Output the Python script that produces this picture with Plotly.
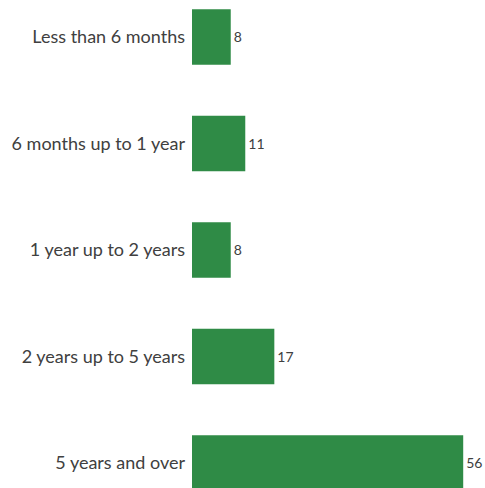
import plotly.graph_objects as go

categories = ["Less than 6 months", "6 months up to 1 year", "1 year up to 2 years",
              "2 years up to 5 years", "5 years and over"]
values = [8, 11, 8, 17, 56]

fig = go.Figure(go.Bar(
    x=values, y=categories, orientation="h",
    marker=dict(color="#2F8B46", line=dict(width=0)),
    width=0.52,
    text=[str(v) for v in values], textposition="outside",
    textfont=dict(family="Lato", size=14, color="#404040"),
    cliponaxis=False,
))
fig.update_layout(
    width=485, height=488,
    margin=dict(l=192, r=0, t=0, b=0),
    paper_bgcolor="white", plot_bgcolor="white",
    showlegend=False,
    font=dict(family="Lato", color="#404040"),
    xaxis=dict(range=[0, 60.5], visible=False, showgrid=False, zeroline=False),
    yaxis=dict(type="category", categoryorder="array", categoryarray=categories,
               range=[4.235, -0.347], showgrid=False, zeroline=False, showline=False,
               ticks="", ticklabelstandoff=6,
               tickfont=dict(family="Lato", size=18, color="#404040")),
)
fig.write_html(
    "out.html",
    config={"displayModeBar": False},
    post_script=("document.documentElement.style.overflow='hidden';"
                 "document.body.style.overflow='hidden';"
                 "document.body.style.margin='0';"),
)
